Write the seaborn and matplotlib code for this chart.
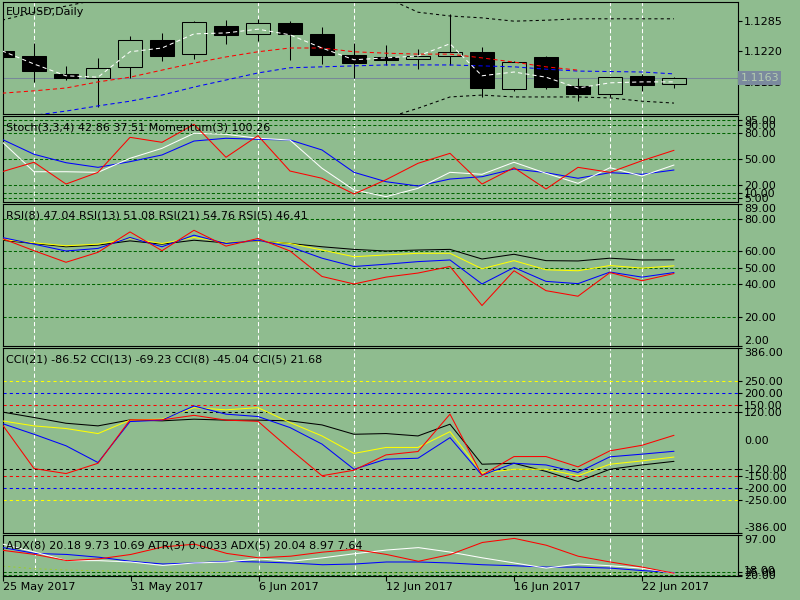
import numpy as np
import pandas as pd
import matplotlib
matplotlib.use("Agg")
import matplotlib.pyplot as plt
import seaborn as sns

# ---------------- data ----------------
dates = ["25 May", "26 May", "29 May", "30 May", "31 May", "1 Jun", "2 Jun", "5 Jun",
         "6 Jun", "7 Jun", "8 Jun", "9 Jun", "12 Jun", "13 Jun", "14 Jun", "15 Jun",
         "16 Jun", "19 Jun", "20 Jun", "21 Jun", "22 Jun", "23 Jun"]
xtick_labels = ["25 May 2017", "31 May 2017", "6 Jun 2017", "12 Jun 2017", "16 Jun 2017", "22 Jun 2017"]
xtick_bars = [0, 4, 8, 12, 16, 20]
marker_bars = [1, 8, 11, 19, 20]

open_ = [1.1220, 1.1210, 1.1172, 1.1163, 1.1187, 1.1244, 1.1214, 1.1274, 1.1257, 1.1280, 1.1257,
         1.1212, 1.1208, 1.1203, 1.1210, 1.1218, 1.1140, 1.1208, 1.1146, 1.1129, 1.1168, 1.1150]
high_ = [1.1221, 1.1238, 1.1189, 1.1206, 1.1252, 1.1259, 1.1284, 1.1287, 1.1288, 1.1284, 1.1272,
         1.1238, 1.1233, 1.1225, 1.1299, 1.1229, 1.1199, 1.1210, 1.1163, 1.1166, 1.1172, 1.1165]
low_ = [1.1207, 1.1155, 1.1159, 1.1102, 1.1163, 1.1199, 1.1203, 1.1235, 1.1241, 1.1202, 1.1193,
        1.1163, 1.1191, 1.1182, 1.1191, 1.1123, 1.1136, 1.1140, 1.1114, 1.1123, 1.1136, 1.1141]
close_ = [1.1208, 1.1178, 1.1163, 1.1185, 1.1244, 1.1210, 1.1282, 1.1255, 1.1280, 1.1257, 1.1212,
          1.1195, 1.1202, 1.1210, 1.1218, 1.1142, 1.1197, 1.1144, 1.1129, 1.1166, 1.1149, 1.1163]
last_price = 1.1163

ma_white = [1.1221, 1.1193, 1.1168, 1.1165, 1.1219, 1.1227, 1.1257, 1.1259, 1.1267, 1.1255, 1.1227,
            1.1202, 1.1206, 1.1210, 1.1236, 1.1168, 1.1176, 1.1165, 1.1142, 1.1153, 1.1155, 1.1155]
ma_red = [1.1131, 1.1136, 1.1142, 1.1155, 1.1165, 1.1180, 1.1195, 1.1208, 1.1219, 1.1227, 1.1227,
          1.1219, 1.1216, 1.1214, 1.1214, 1.1206, 1.1197, 1.1187, 1.1180]
ma_blue = [1.1078, 1.1084, 1.1093, 1.1104, 1.1114, 1.1127, 1.1144, 1.1159, 1.1174, 1.1185, 1.1187,
           1.1189, 1.1191, 1.1191, 1.1191, 1.1189, 1.1187, 1.1182, 1.1178, 1.1177, 1.1176, 1.1172]
band_up = [1.1286, 1.1303, 1.1316, 1.1330, 1.1345, 1.1355, 1.1362, 1.1366, 1.1366, 1.1362, 1.1355,
           1.1345, 1.1334, 1.1303, 1.1295, 1.1291, 1.1284, 1.1286, 1.1289, 1.1289, 1.1289, 1.1289]
band_dn = [1.1040, 1.1035, 1.1030, 1.1028, 1.1030, 1.1035, 1.1040, 1.1046, 1.1052, 1.1058, 1.1064,
           1.1070, 1.1078, 1.1099, 1.1123, 1.1127, 1.1123, 1.1123, 1.1123, 1.1121, 1.1114, 1.1110]

stoch_red = [35.2, 46.2, 20.9, 34.5, 75.2, 69.4, 90.3, 52.0, 77.1, 36.0, 27.6, 9.3, 25.9, 45.0,
             56.6, 20.9, 39.9, 15.1, 40.3, 34.5, 48.0, 60.1]
stoch_white = [70.1, 35.2, 35.2, 34.5, 50.8, 62.4, 79.9, 78.7, 74.1, 72.1, 39.2, 14.0, 6.2, 15.9,
               34.5, 32.2, 46.2, 33.4, 21.7, 39.9, 30.2, 43.0]
stoch_blue = [72.9, 55.5, 45.7, 40.3, 46.9, 54.7, 70.9, 74.1, 72.9, 72.1, 60.5, 34.5, 23.6, 18.6,
              26.7, 29.4, 38.4, 34.1, 27.6, 34.1, 32.2, 37.2]
stoch_levels = [5, 10, 20, 50, 80, 90, 95]

rsi5 = [67.9, 60.4, 53.3, 59.4, 71.9, 60.4, 72.9, 63.2, 67.9, 60.2, 44.6, 40.0, 44.2, 46.7, 50.7,
        26.8, 48.1, 35.9, 32.5, 47.0, 42.0, 46.4]
rsi8 = [68.5, 64.4, 60.2, 61.8, 68.5, 62.8, 69.9, 64.8, 66.8, 62.8, 55.8, 50.7, 52.1, 53.7, 54.7,
        40.0, 50.1, 41.6, 40.2, 47.3, 44.2, 47.0]
rsi13 = [67.3, 65.2, 63.4, 64.4, 67.9, 64.8, 68.5, 65.5, 66.4, 64.8, 60.8, 56.7, 57.8, 58.8, 58.8,
         49.3, 54.3, 48.7, 48.1, 51.3, 49.7, 51.1]
rsi21 = [66.8, 64.8, 62.8, 63.8, 66.4, 64.4, 66.8, 65.2, 66.4, 64.8, 62.8, 61.2, 60.2, 60.8, 61.2,
         55.3, 58.2, 54.3, 54.1, 55.8, 54.7, 54.8]
rsi_levels = [20, 40, 50, 60, 80]
rsi_ticks = [2, 20, 40, 50, 60, 80, 89]

cci5 = [68, -117, -138, -95, 86, 86, 105, 85, 80, -36, -147, -124, -60, -46, 110, -145, -67, -67,
        -110, -43, -20, 21.7]
cci8 = [71, 26, -22, -92, 79, 85, 144, 110, 100, 54, -15, -120, -78, -74, 12, -145, -95, -102,
        -133, -68, -57, -45]
cci13 = [82, 61, 50, 29, 85, 89, 137, 128, 137, 75, 19, -54, -29, -29, 37, -136, -120, -120, -147,
         -99, -85, -69]
cci21 = [119, 96, 72, 61, 86, 82, 89, 85, 85, 82, 65, 26, 29, 19, 68, -99, -95, -129, -171, -120,
         -102, -87]
cci_levels = [(250, "#ffff00"), (200, "#0000ff"), (150, "#ff0000"), (120, "#000000"),
              (-120, "#000000"), (-150, "#ff0000"), (-200, "#0000ff"), (-250, "#ffff00")]
cci_ticks = [-386, -250, -200, -150, -120, 0, 120, 150, 200, 250, 386]

adx_red = [67.4, 59.5, 47.6, 51.0, 59.5, 74.0, 79.3, 61.5, 53.0, 56.2, 64.0, 69.4, 59.5, 46.3,
           59.5, 82.6, 90.5, 77.3, 56.1, 45.0, 35.2, 23.3]
adx_white = [79.3, 64.0, 47.6, 47.6, 45.0, 38.4, 43.1, 45.0, 51.0, 46.3, 53.0, 60.9, 68.0, 72.7,
             64.0, 53.0, 43.1, 33.2, 41.1, 37.8, 33.2, 23.3]
adx_blue = [72.7, 61.5, 59.5, 54.2, 46.3, 41.1, 43.1, 46.3, 45.0, 43.1, 39.7, 41.1, 45.0, 45.0,
            43.1, 39.7, 37.8, 35.2, 35.2, 33.2, 28.5, 24.5]
atr_line = [37.0, 32.0, 29.5, 28.0, 27.0, 26.0, 25.0, 24.5, 24.0, 23.8, 23.6, 23.5, 23.8, 24.5,
            28.5, 26.0, 25.0, 24.0, 23.8, 23.5, 23.5, 23.3]
adx_levels = [20, 25]
adx_ticks = [18, 20, 25, 97]

# ---------------- style ----------------
BG = "#8fbc8f"
DKG = "#006400"
sns.set_style("white", rc={"axes.facecolor": BG, "figure.facecolor": BG,
                           "axes.edgecolor": "black", "savefig.facecolor": BG})
plt.rcParams['font.family'] = ['DejaVu Sans']
plt.rcParams['font.size'] = 8

fig = plt.figure(figsize=(8, 6), dpi=100)
XL = ((3 - 2) / 32.0, (738 - 2) / 32.0)
idx = np.arange(len(dates))
LW = 0.75


def make_ax(y0, y1, ylim):
    ax = fig.add_axes([3 / 800, 1 - y1 / 600, 735 / 800, (y1 - y0) / 600])
    ax.set_facecolor(BG)
    ax.set_xlim(XL)
    ax.set_ylim(ylim)
    for s in ax.spines.values():
        s.set_color("black")
        s.set_linewidth(0.8)
    ax.yaxis.tick_right()
    ax.tick_params(axis="y", direction="out", length=3, width=0.8, pad=1.5,
                   labelsize=8, colors="black")
    ax.tick_params(axis="x", bottom=False, labelbottom=False)
    ax.grid(False)
    for b in marker_bars:
        ax.axvline(b, color="white", lw=LW, linestyle=(0, (4, 2.5)), zorder=1)
    return ax


def right_ticks(ax, vals, fmt):
    ax.set_yticks(vals)
    ax.set_yticklabels([fmt % v for v in vals])
    lo, hi = ax.get_ylim()
    for lab, v in zip(ax.get_yticklabels(), vals):
        if abs(v - hi) < 1e-9:
            lab.set_va("top")
        elif abs(v - lo) < 1e-9:
            lab.set_va("bottom")


def title(ax, text, dy_px):
    ax.annotate(text, xy=(0, 1), xycoords="axes fraction", xytext=(3 * 0.72, -dy_px * 0.72),
                textcoords="offset points", ha="left", va="center", fontsize=8, color="black",
                zorder=10)


def line(ax, y, color, ls="-", x=None, lw=LW, z=3):
    if x is None:
        x = idx[:len(y)]
    df = pd.DataFrame({"x": x, "y": y})
    sns.lineplot(data=df, x="x", y="y", ax=ax, color=color, linewidth=lw, linestyle=ls,
                 estimator=None, errorbar=None, sort=False, zorder=z)
    ax.set_xlabel("")
    ax.set_ylabel("")


# ---------------- main price panel ----------------
ax0 = make_ax(2, 114, (1.10868, 1.13247))
ax0.axhline(last_price, color="#778899", lw=LW, zorder=1.5)
o = np.array(open_); c = np.array(close_); h = np.array(high_); l = np.array(low_)
bull = c >= o
ax0.vlines(idx, l, h, color="black", lw=LW, zorder=2)
ax0.bar(idx, np.maximum(np.abs(c - o), 0.00003), bottom=np.minimum(o, c), width=0.72,
        color=np.where(bull, BG, "black"), edgecolor="black", linewidth=LW, zorder=2.5)
line(ax0, band_up, "black", (0, (3, 3)))
line(ax0, band_dn, "black", (0, (3, 3)))
line(ax0, ma_blue, "#0000ff", (0, (4, 3)))
line(ax0, ma_red, "#ff0000", (0, (4, 3)))
line(ax0, ma_white, "white", (0, (4, 3)))
right_ticks(ax0, [1.1155, 1.1220, 1.1285], "%.4f")
ax0.text(1.0035, last_price, "%.4f" % last_price, transform=ax0.get_yaxis_transform(),
         ha="left", va="center", fontsize=8, color="#b4cdb0", zorder=20, clip_on=False,
         bbox=dict(boxstyle="square,pad=0.2", fc="#7b8a9e", ec="none"))
title(ax0, "EURUSD,Daily", 10)

# ---------------- stochastic ----------------
ax1 = make_ax(116, 202, (0, 100))
for lv in stoch_levels:
    ax1.axhline(lv, color=DKG, lw=LW, linestyle=(0, (3, 2)), zorder=1)
line(ax1, stoch_blue, "#0000ff")
line(ax1, stoch_white, "white")
line(ax1, stoch_red, "#ff0000")
right_ticks(ax1, stoch_levels, "%.2f")
title(ax1, "Stoch(3,3,4) 42.86 37.51 Momentum(3) 100.26", 11)

# ---------------- RSI ----------------
ax2 = make_ax(204, 346, (2, 89))
for lv in rsi_levels:
    ax2.axhline(lv, color=DKG, lw=LW, linestyle=(0, (3, 2)), zorder=1)
line(ax2, rsi21, "black")
line(ax2, rsi13, "#ffff00")
line(ax2, rsi8, "#0000ff")
line(ax2, rsi5, "#ff0000")
right_ticks(ax2, rsi_ticks, "%.2f")
title(ax2, "RSI(8) 47.04 RSI(13) 51.08 RSI(21) 54.76 RSI(5) 46.41", 11)

# ---------------- CCI ----------------
ax3 = make_ax(348, 533, (-386, 386))
for lv, col in cci_levels:
    ax3.axhline(lv, color=col, lw=LW, linestyle=(0, (3, 3)), zorder=1)
line(ax3, cci21, "black")
line(ax3, cci13, "#ffff00")
line(ax3, cci8, "#0000ff")
line(ax3, cci5, "#ff0000")
right_ticks(ax3, cci_ticks, "%.2f")
for t in ax3.yaxis.get_major_ticks():
    if abs(t.get_loc()) < 1e-9:
        t.tick2line.set_visible(False)
title(ax3, "CCI(21) -86.52 CCI(13) -69.23 CCI(8) -45.04 CCI(5) 21.68", 12)

# ---------------- ADX ----------------
ax4 = make_ax(535, 576, (18, 97))
for lv in adx_levels:
    ax4.axhline(lv, color=DKG, lw=LW, linestyle=(0, (3, 2)), zorder=1)
line(ax4, atr_line, "#9acd32", (0, (2, 3)), z=2)
line(ax4, adx_blue, "#0000ff")
line(ax4, adx_white, "white")
line(ax4, adx_red, "#ff0000")
right_ticks(ax4, adx_ticks, "%.2f")
title(ax4, "ADX(8) 20.18 9.73 10.69 ATR(3) 0.0033 ADX(5) 20.04 8.97 7.64", 11)
ax4.tick_params(axis="x", bottom=True, labelbottom=True, direction="out", length=3.6,
                width=0.8, pad=0.5, labelsize=8, colors="black")
ax4.set_xticks(xtick_bars)
ax4.set_xticklabels(xtick_labels, ha="left")

fig.savefig("out.png", dpi=100, facecolor=BG)
